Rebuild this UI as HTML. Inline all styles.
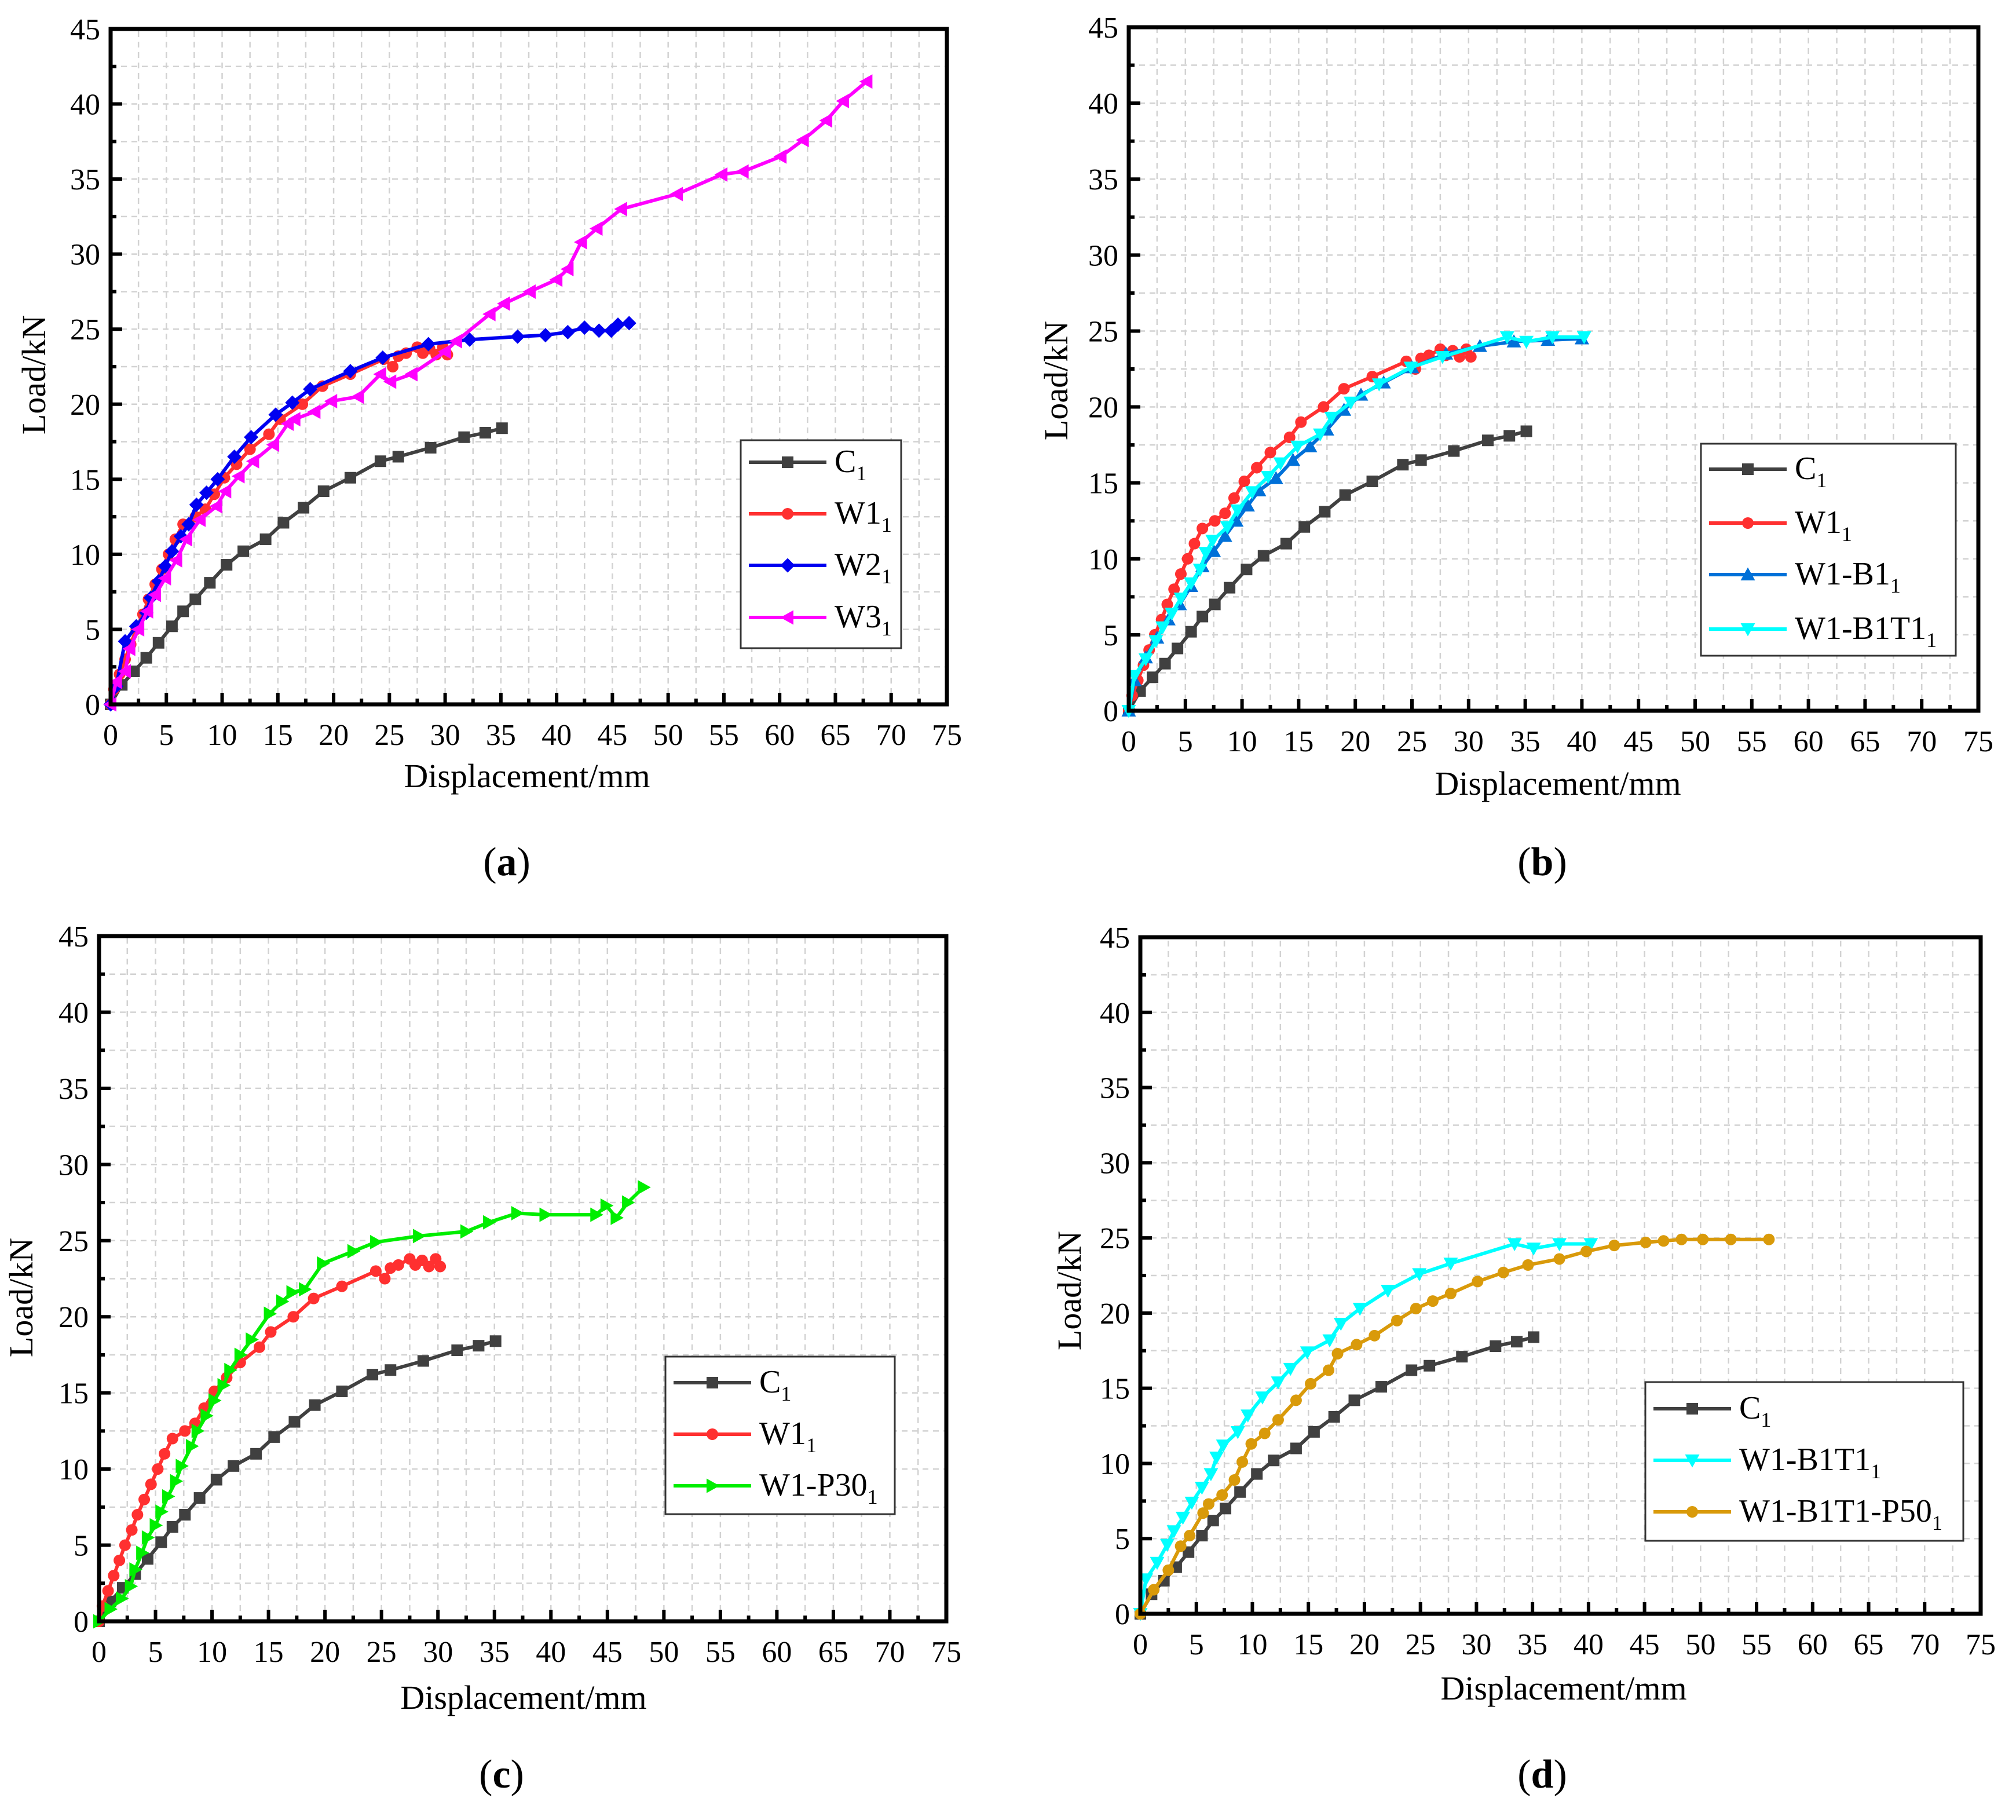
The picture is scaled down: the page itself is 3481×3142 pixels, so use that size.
<!DOCTYPE html>
<html><head><meta charset="utf-8">
<style>
html,body{margin:0;padding:0;background:#fff;}
svg{display:block;font-family:"Liberation Serif","DejaVu Serif",serif;}
</style></head>
<body>
<svg id="fig" xmlns="http://www.w3.org/2000/svg" width="3481" height="3142" viewBox="0 0 3481 3142"></svg>
<script>
// ---- data (Displacement mm, Load kN) ----
const xTicks = [0,5,10,15,20,25,30,35,40,45,50,55,60,65,70,75];
const yTicks = [0,5,10,15,20,25,30,35,40,45];
const c1X = [0,1,2.1,3.2,4.3,5.5,6.5,7.6,8.9,10.4,11.9,13.9,15.5,17.3,19.1,21.5,24.2,25.8,28.7,31.7,33.6,35.1];
const c1Y = [0,1.3,2.2,3.1,4.1,5.2,6.2,7.0,8.1,9.3,10.2,11.0,12.1,13.1,14.2,15.1,16.2,16.5,17.1,17.8,18.1,18.4];
const w1X = [0,0.3,0.8,1.3,1.8,2.3,2.9,3.4,4.0,4.6,5.2,5.8,6.5,7.6,8.5,9.3,10.2,11.3,12.5,14.2,15.2,17.2,19,21.5,24.5,25.3,25.8,26.5,27.5,28.0,28.6,29.2,29.8,30.2];
const w1Y = [0,1,2,3,4,5,6,7,8,9,10,11,12,12.5,13.0,14.0,15.1,16.0,17.0,18.0,19.0,20.0,21.2,22.0,23.0,22.5,23.2,23.4,23.8,23.4,23.7,23.3,23.8,23.3];
const w2X = [0,0.5,1.3,2.3,3.2,3.6,4.3,4.9,5.5,6.3,7.0,7.7,8.6,9.6,11.1,12.6,14.8,16.3,17.9,21.5,24.4,28.5,32.2,36.5,39,41,42.5,43.8,44.9,45.5,46.5];
const w2Y = [0,1.2,4.2,5.2,6.1,7.1,8.2,9.2,10.2,11.2,12.0,13.3,14.1,15.0,16.5,17.8,19.3,20.1,21.0,22.2,23.1,24.0,24.3,24.5,24.6,24.8,25.1,24.9,24.9,25.3,25.4];
const w3X = [0,0.5,1.3,1.7,2.5,3.3,4,4.9,5.9,6.8,8.0,9.5,10.3,11.5,12.8,14.6,15.9,16.5,18.3,19.8,22.2,24.2,25.1,27.0,30,31,34,35.3,37.6,40,41,42.2,43.6,45.8,50.8,54.8,56.7,60.1,62.1,64.2,65.7,67.8];
const w3Y = [0,1.5,2.2,3.7,5,6.2,7.3,8.4,9.6,11.0,12.3,13.2,14.2,15.2,16.2,17.3,18.7,19.0,19.5,20.2,20.5,22.0,21.5,22.0,23.5,24.2,26.0,26.7,27.5,28.3,29.0,30.8,31.7,33.0,34.0,35.3,35.5,36.5,37.6,38.9,40.2,41.5];
const b1X = [0,0.5,1.5,2.5,3.5,4.5,5.5,6.5,7.5,8.5,9.5,10.5,11.5,13,14.5,16,17.5,19,20.5,22.5,25,28,31,34,37,40];
const b1Y = [0,2,3.5,4.8,6.0,7,8.2,9.5,10.5,11.5,12.5,13.5,14.5,15.3,16.5,17.4,18.5,19.8,20.8,21.6,22.6,23.5,24.0,24.3,24.4,24.5];
const bt1X = [0,0.5,1.5,2.4,3,3.8,4.6,5.5,6.3,6.8,7.4,8.7,9.6,10.9,12.3,13.4,14.9,16.9,17.9,19.6,22.1,24.9,27.7,33.4,35.1,37.4,40.2];
const bt1Y = [0,2.3,3.4,4.6,5.5,6.4,7.4,8.4,9.3,10.4,11.2,12.1,13.2,14.4,15.4,16.3,17.4,18.2,19.3,20.3,21.5,22.6,23.3,24.6,24.3,24.6,24.6];
const p50X = [0,1.2,2.5,3.6,4.4,5.6,6.1,7.3,8.4,9.1,9.9,11.1,12.3,13.9,15.2,16.8,17.6,19.3,20.9,22.9,24.6,26.1,27.7,30.1,32.4,34.6,37.4,39.8,42.3,45.1,46.7,48.3,50.2,52.7,56.1];
const p50Y = [0,1.6,2.9,4.5,5.2,6.7,7.3,7.9,8.9,10.1,11.3,12.0,12.9,14.2,15.3,16.2,17.3,17.9,18.5,19.5,20.3,20.8,21.3,22.1,22.7,23.2,23.6,24.1,24.5,24.7,24.8,24.9,24.9,24.9,24.9];
const p30X = [0,1,2,2.8,3.2,3.8,4.3,5,5.5,6.1,6.8,7.3,8.2,8.7,9.5,10.2,11.0,11.6,12.5,13.5,15.1,16.2,17.1,18.2,19.8,22.5,24.5,28.3,32.5,34.5,37,39.5,44.0,44.9,45.8,46.8,48.2];
const p30Y = [0,0.8,1.5,2.3,3.4,4.5,5.5,6.3,7.2,8.2,9.2,10.2,11.5,12.5,13.5,14.5,15.5,16.5,17.5,18.5,20.2,21.0,21.6,21.8,23.5,24.3,24.9,25.3,25.6,26.2,26.8,26.7,26.7,27.3,26.5,27.5,28.5];

const SER = {
  c1:{x:c1X,y:c1Y,color:'#404040',m:'square',label:'C',id:'c1'},
  w1:{x:w1X,y:w1Y,color:'#ff3030',m:'circle',label:'W1',id:'w1'},
  w2:{x:w2X,y:w2Y,color:'#0000f0',m:'diamond',label:'W2',id:'w2'},
  w3:{x:w3X,y:w3Y,color:'#ff00ff',m:'tleft',label:'W3',id:'w3'},
  b1:{x:b1X,y:b1Y,color:'#0070d8',m:'tup',label:'W1-B1',id:'w1-b1'},
  bt1:{x:bt1X,y:bt1Y,color:'#00ffff',m:'tdown',label:'W1-B1T1',id:'w1-b1t1'},
  p30:{x:p30X,y:p30Y,color:'#00ee00',m:'tright',label:'W1-P30',id:'w1-p30'},
  p50:{x:p50X,y:p50Y,color:'#d99a0a',m:'circle',label:'W1-B1T1-P50',id:'w1-b1t1-p50'}
};
const panels = [
 {n:'a',x0:191,x1:1635,y0:1216,y1:50,series:['c1','w1','w2','w3'],leg:[1279,760,1556,1119],rows:[798,887,976,1066],title:[910,1359],ylab:[78,647],cap:[875,1511]},
 {n:'b',x0:1949,x1:3416,y0:1227,y1:47,series:['c1','w1','b1','bt1'],leg:[2937,766,3377,1132],rows:[810,903,992,1086],title:[2690,1372],ylab:[1843,657],cap:[2663,1511]},
 {n:'c',x0:171,x1:1634,y0:2799,y1:1616,series:['c1','w1','p30'],leg:[1149,2342,1545,2614],rows:[2387,2476,2565],title:[904,2950],ylab:[56,2240],cap:[866,3086]},
 {n:'d',x0:1969,x1:3420,y0:2786,y1:1618,series:['c1','bt1','p50'],leg:[2841,2386,3390,2660],rows:[2432,2521,2610],title:[2700,2934],ylab:[1866,2228],cap:[2663,3086]}
];
const NS='http://www.w3.org/2000/svg';
const svg=document.getElementById('fig');
function mk(tag,attrs,parent){const e=document.createElementNS(NS,tag);for(const k in attrs)e.setAttribute(k,attrs[k]);(parent||svg).appendChild(e);return e;}
function marker(g,type,cx,cy,color,s){
  let e;
  if(type==='square'){e=mk('rect',{x:cx-s,y:cy-s,width:2*s,height:2*s,fill:color},g);}
  else if(type==='circle'){e=mk('circle',{cx:cx,cy:cy,r:s,fill:color},g);}
  else{
    let p;
    const k=s*1.25;
    if(type==='diamond')p=[[cx,cy-k],[cx+k,cy],[cx,cy+k],[cx-k,cy]];
    else if(type==='tup')p=[[cx,cy-k],[cx+k,cy+k*0.8],[cx-k,cy+k*0.8]];
    else if(type==='tdown')p=[[cx,cy+k],[cx+k,cy-k*0.8],[cx-k,cy-k*0.8]];
    else if(type==='tleft')p=[[cx-k,cy],[cx+k*0.8,cy-k],[cx+k*0.8,cy+k]];
    else p=[[cx+k,cy],[cx-k*0.8,cy-k],[cx-k*0.8,cy+k]];
    e=mk('polygon',{points:p.map(q=>q.join(',')).join(' '),fill:color},g);
  }
  
  
}
panels.forEach(P=>{
  const g=mk('g',{});
  
  
  const sx=v=>P.x0+(P.x1-P.x0)*v/75;
  const sy=v=>P.y0-(P.y0-P.y1)*v/45;
  // grid
  const grid=mk('g',{stroke:'#d2d2d2','stroke-width':2.5,'stroke-dasharray':'10,8'},g);
  
  
  for(let v=2.5;v<75;v+=2.5)mk('line',{x1:sx(v),x2:sx(v),y1:P.y0,y2:P.y1},grid);
  for(let v=2.5;v<45;v+=2.5)mk('line',{x1:P.x0,x2:P.x1,y1:sy(v),y2:sy(v)},grid);
  // ticks
  const tk=mk('g',{stroke:'#000','stroke-width':6},g);
  
  
  for(let v=0;v<=75;v+=2.5){const L=(v%5===0)?20:10;mk('line',{x1:sx(v),x2:sx(v),y1:P.y0,y2:P.y0-L},tk);}
  for(let v=0;v<=45;v+=2.5){const L=(v%5===0)?20:10;mk('line',{x1:P.x0,x2:P.x0+L,y1:sy(v),y2:sy(v)},tk);}
  // tick labels
  xTicks.forEach(v=>{const t=mk('text',{x:sx(v),y:P.y0+70,'font-size':52,'text-anchor':'middle',fill:'#000'},g);t.textContent=v;
    });
  yTicks.forEach(v=>{const t=mk('text',{x:P.x0-18,y:sy(v)+18,'font-size':52,'text-anchor':'end',fill:'#000'},g);t.textContent=v;
    });
  // series
  P.series.forEach(k=>{
    const S=SER[k];
    const sg=mk('g',{},g);
    
    
    const pts=S.x.map((x,i)=>sx(x)+','+sy(S.y[i])).join(' ');
    mk('polyline',{points:pts,fill:'none',stroke:S.color,'stroke-width':6,'stroke-linejoin':'round'},sg);
    S.x.forEach((x,i)=>marker(sg,S.m,sx(x),sy(S.y[i]),S.color,10));
  });
  // frame
  const fr=mk('rect',{x:P.x0,y:P.y1,width:P.x1-P.x0,height:P.y0-P.y1,fill:'none',stroke:'#000','stroke-width':7},g);
  
  
  // legend
  const [lx0,ly0,lx1,ly1]=P.leg;
  const lg=mk('g',{},g);
  
  
  mk('rect',{x:lx0,y:ly0,width:lx1-lx0,height:ly1-ly0,fill:'#fff',stroke:'#333','stroke-width':3},lg);
  P.series.forEach((k,i)=>{
    const S=SER[k];const cy=P.rows[i];
    const eg=mk('g',{},lg);
    
    
    mk('line',{x1:lx0+14,x2:lx0+148,y1:cy,y2:cy,stroke:S.color,'stroke-width':6},eg);
    marker(eg,S.m,lx0+81,cy,S.color,10);
    const t=mk('text',{x:lx0+162,y:cy+17,'font-size':56,fill:'#000'},eg);
    t.textContent=S.label;
    const sub=mk('tspan',{'font-size':36,dy:14},t);sub.textContent='1';
  });
  // axis titles
  const xt=mk('text',{x:P.title[0],y:P.title[1],'font-size':58,'text-anchor':'middle',fill:'#000'},g);
  xt.textContent='Displacement/mm';
  
  const yt=mk('text',{x:P.ylab[0],y:P.ylab[1],'font-size':58,'text-anchor':'middle',fill:'#000',transform:'rotate(-90 '+P.ylab[0]+' '+P.ylab[1]+')'},g);
  yt.textContent='Load/kN';
  
  // caption
  const cp=mk('text',{x:P.cap[0],y:P.cap[1],'font-size':70,'text-anchor':'middle',fill:'#000'},g);
  cp.textContent='(';
  const b=mk('tspan',{'font-weight':'bold'},cp);b.textContent=P.n;
  const cl=mk('tspan',{},cp);cl.textContent=')';
  
});
</script>
</body></html>
